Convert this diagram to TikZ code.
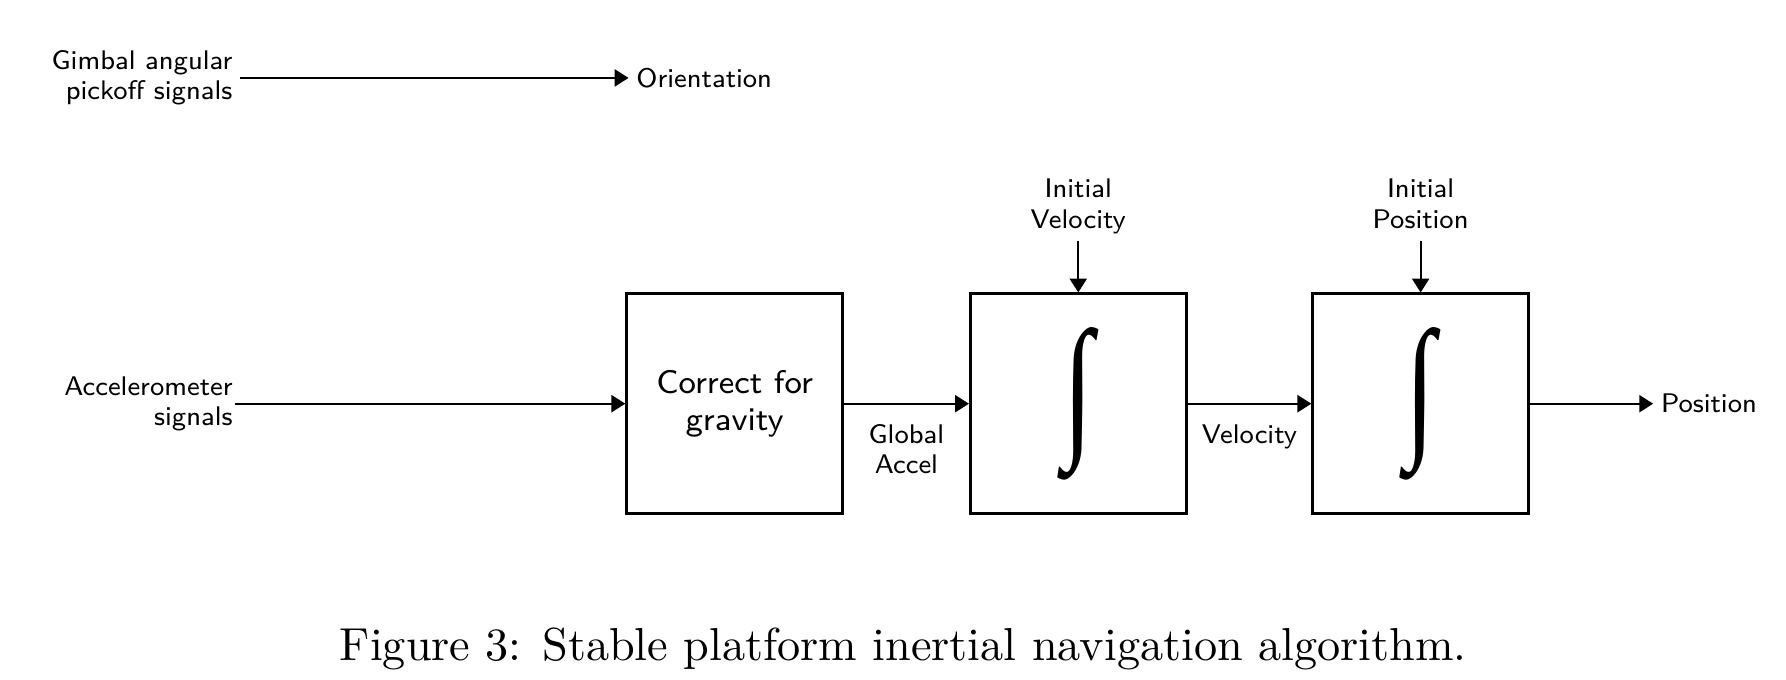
\documentclass[tikz,border=0pt]{standalone}
\usepackage{fontspec}
\usepackage{graphicx}
\usetikzlibrary{positioning, arrows.meta}

\newfontfamily\intfont{Liberation Serif}
\newcommand{\intsym}{\scalebox{0.7}[1]{\resizebox*{!}{34pt}{\intfont ∫}}}

\begin{document}
\begin{tikzpicture}[>={Triangle[length=3.1pt,width=3.8pt]}, line width=0.5pt,
  blk/.style={draw, line width=0.6pt, minimum width=1.69cm, minimum height=1.72cm,
    align=center, font=\sffamily\fontsize{7.3}{8.1}\selectfont},
  lbl/.style={inner sep=1.5pt, align=center, font=\sffamily\fontsize{6.0}{6.7}\selectfont}]
  \useasboundingbox (0,0) rectangle (13.98,-5.32);
  % orientation
  \node[lbl, align=right, anchor=east] (gimbal) at (1.88,-0.61) {Gimbal angular\\pickoff signals};
  \node[lbl, anchor=west] (orient) at (4.92,-0.61) {Orientation};
  \draw[->] (gimbal) -- (orient);
  % blocks
  \node[blk] (grav) at (5.75,-3.16) {Correct for\\gravity};
  \node[blk] (intv) at (8.44,-3.16) {\intsym};
  \node[blk] (intp) at (11.12,-3.16) {\intsym};
  \node[lbl, align=right, anchor=east, inner sep=0.3pt] (accel) at (1.84,-3.16) {Accelerometer\\signals};
  \node[lbl, anchor=west] (pos) at (12.94,-3.16) {Position};
  \node[lbl, above=0.4cm of intv] (ivel) {Initial\\Velocity};
  \node[lbl, anchor=north] (ipos) at (ivel.north -| intp) {Initial\\Position};
  % signal flow
  \draw[->] (accel) -- (grav);
  \draw[->] (grav) -- node[lbl, below=0.1cm] (gacc) {Global\\Accel} (intv);
  \draw[->] (intv) -- node[lbl, below=0.1cm] (vel) {Velocity} (intp);
  \draw[->] (intp) -- (pos);
  \draw[->] (ivel) -- (intv);
  \draw[->] (ivel.south -| ipos) -- (intp);
  \node[font=\fontsize{10.3}{12}\selectfont] (cap) at (7.07,-5.08) {Figure 3: Stable platform inertial navigation algorithm.};
\end{tikzpicture}
\end{document}
